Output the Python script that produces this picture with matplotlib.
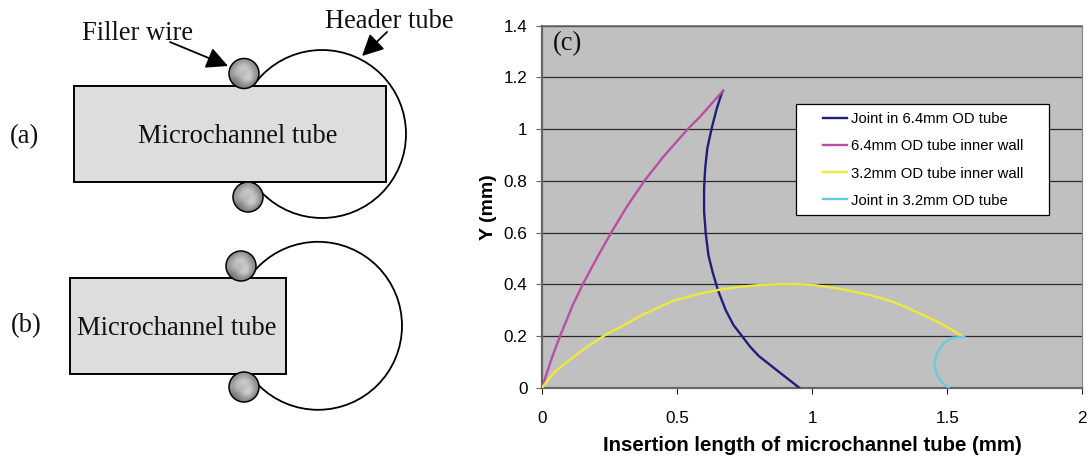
"""Weld joint schematics (a, b) and joint profile chart (c)."""

import matplotlib

matplotlib.use("Agg")
import matplotlib.pyplot as plt  # noqa: E402
from matplotlib.patches import Circle, Rectangle  # noqa: E402

W, H = 1088, 457
SANS = "Liberation Sans"
SERIF = "Liberation Serif"

NAVY = "#1f1f7a"
MAGENTA = "#b84fa5"
YELLOW = "#f0e83c"
CYAN = "#66ccdd"
PLOT_BG = "#c0c0c0"
SPINE = "#666666"
TUBE_BG = "#dddddd"

joint_64_x = [0.952, 0.876, 0.802, 0.770, 0.740, 0.709, 0.680, 0.651, 0.631, 0.616, 0.606,
              0.600, 0.600, 0.604, 0.612, 0.628, 0.647, 0.665, 0.67]
joint_64_y = [0.0, 0.062, 0.123, 0.159, 0.20, 0.242, 0.30, 0.378, 0.449, 0.513, 0.598,
              0.681, 0.771, 0.848, 0.926, 1.003, 1.08, 1.138, 1.148]

wall_64_x = [0.0, 0.036, 0.067, 0.114, 0.153, 0.209, 0.262, 0.314, 0.381, 0.449, 0.542, 0.585, 0.67]
wall_64_y = [0.0, 0.114, 0.20, 0.32, 0.404, 0.513, 0.61, 0.70, 0.803, 0.893, 1.003, 1.048, 1.148]

wall_32_x = [0.0, 0.048, 0.11, 0.171, 0.233, 0.326, 0.369, 0.486, 0.57, 0.652, 0.73, 0.807, 0.88, 0.95, 1.005,
             1.10, 1.215, 1.30, 1.363, 1.474, 1.56]
wall_32_y = [0.0, 0.062, 0.114, 0.161, 0.203, 0.255, 0.281, 0.336, 0.36, 0.378, 0.39, 0.397, 0.40, 0.40, 0.397,
             0.383, 0.358, 0.332, 0.304, 0.25, 0.197]

joint_32_x = [1.564, 1.517, 1.486, 1.462, 1.452, 1.462, 1.480, 1.505]
joint_32_y = [0.197, 0.193, 0.172, 0.133, 0.088, 0.049, 0.021, 0.0]

series_labels = ["Joint in 6.4mm OD tube", "6.4mm OD tube inner wall",
                 "3.2mm OD tube inner wall", "Joint in 3.2mm OD tube"]
x_ticks = [0, 0.5, 1, 1.5, 2]
x_tick_labels = ["0", "0.5", "1", "1.5", "2"]
y_ticks = [0, 0.2, 0.4, 0.6, 0.8, 1.0, 1.2, 1.4]
y_tick_labels = ["0", "0.2", "0.4", "0.6", "0.8", "1", "1.2", "1.4"]

# schematic geometry in image pixels
tube_rects = [(73.5, 86, 312.5, 96), (69.7, 277.7, 216.3, 96.3)]
header_circles = [(322, 134, 84), (318, 325.8, 84)]
wire_circles = [(244, 73.5), (248, 197), (241, 266), (244, 387)]
WIRE_R = 15
wire_shades = [[0.45, 0.55, 0.60, 0.55, 0.42],
               [0.55, 0.75, 0.90, 0.72, 0.50],
               [0.60, 0.82, 0.62, 0.85, 0.55],
               [0.50, 0.55, 0.85, 0.90, 0.50],
               [0.38, 0.45, 0.55, 0.50, 0.36]]


def draw_schematic(ov) -> None:
    for cx, cy, r in header_circles:
        ov.add_patch(Circle((cx, cy), r, fc="none", ec="black", lw=1.3, zorder=1))
    for x, y, w, h in tube_rects:
        ov.add_patch(Rectangle((x, y), w, h, fc=TUBE_BG, ec="black", lw=1.4, zorder=2))
    for cx, cy in wire_circles:
        im = ov.imshow(wire_shades, cmap="gray", vmin=0, vmax=1, interpolation="bicubic", aspect="auto",
                       extent=(cx - WIRE_R, cx + WIRE_R, cy + WIRE_R, cy - WIRE_R), zorder=3)
        edge = Circle((cx, cy), WIRE_R, fc="none", ec="black", lw=1.1, zorder=4)
        ov.add_patch(edge)
        im.set_clip_path(edge)

    arrow = dict(arrowstyle="-|>,head_length=1.0,head_width=0.5", mutation_scale=13, color="black", lw=1.3,
                 shrinkA=0, shrinkB=0)
    ov.annotate("", xy=(228, 66), xytext=(170, 42), arrowprops=arrow, zorder=5)
    ov.annotate("", xy=(362, 56), xytext=(387, 32), arrowprops=arrow, zorder=5)

    serif = dict(family=SERIF, fontsize=19.1, color="#111111", va="baseline", zorder=6)
    ov.text(82, 40, "Filler wire", **serif)
    ov.text(325, 28, "Header tube", **serif)
    ov.text(10, 143, "(a)", **serif)
    ov.text(138, 143, "Microchannel tube", **serif)
    ov.text(11, 332, "(b)", **serif)
    ov.text(77, 335, "Microchannel tube", **serif)
    ov.text(553, 50, "(c)", **serif)


def draw_chart(ax) -> None:
    ax.set_facecolor(PLOT_BG)
    ax.plot(joint_64_x, joint_64_y, color=NAVY, lw=1.7, label=series_labels[0], zorder=3)
    ax.plot(wall_64_x, wall_64_y, color=MAGENTA, lw=1.7, label=series_labels[1], zorder=3)
    ax.plot(wall_32_x, wall_32_y, color=YELLOW, lw=1.7, label=series_labels[2], zorder=3)
    ax.plot(joint_32_x, joint_32_y, color=CYAN, lw=1.7, label=series_labels[3], zorder=3)

    ax.set_xlim(0, 2)
    ax.set_ylim(0, 1.4)
    ax.set_xticks(x_ticks, x_tick_labels)
    ax.set_yticks(y_ticks, y_tick_labels)
    ax.grid(True, axis="y", color="#2a2a2a", lw=0.9, zorder=1)
    ax.set_axisbelow(True)
    ax.tick_params(axis="x", length=4.5, width=0.8, color="#222222", pad=12, labelsize=12.3, labelfontfamily=SANS)
    ax.tick_params(axis="y", length=4.5, width=0.8, color=SPINE, pad=6, labelsize=12.3, labelfontfamily=SANS)
    for side, lw in {"left": 1.6, "bottom": 1.6, "top": 1.1, "right": 0.9}.items():
        ax.spines[side].set_color(SPINE if side != "right" else "#888888")
        ax.spines[side].set_linewidth(lw)

    ax.set_xlabel("Insertion length of microchannel tube (mm)", family=SANS, fontweight="bold", fontsize=14.65,
                  labelpad=7.5)
    ax.set_ylabel("Y (mm)", family=SANS, fontweight="bold", fontsize=14, labelpad=4.5)

    # the legend box is wider than its content, so frame and entries are placed apart
    ax.add_patch(Rectangle((0.4695, 0.476), 0.4694, 0.3066, transform=ax.transAxes, fc="white", ec="black",
                           lw=0.9, zorder=4))
    leg = ax.legend(loc="center left", bbox_to_anchor=(0.52, 0.629), frameon=False,
                    prop={"family": SANS, "size": 10.7}, handlelength=1.6, handletextpad=0.27,
                    labelspacing=0.88, borderpad=0, borderaxespad=0)
    leg.set_zorder(5)


def main() -> None:
    fig = plt.figure(figsize=(W / 100, H / 100), dpi=100)

    ax = fig.add_axes([542 / W, (H - 387.7) / H, 540.3 / W, 362 / H])
    draw_chart(ax)

    ov = fig.add_axes([0, 0, 1, 1], zorder=10)
    ov.patch.set_alpha(0)
    ov.axis("off")
    ov.set_xlim(0, W)
    ov.set_ylim(H, 0)
    ov.set_autoscale_on(False)
    draw_schematic(ov)

    fig.savefig("out.png", dpi=100, facecolor="white")


if __name__ == "__main__":
    main()
